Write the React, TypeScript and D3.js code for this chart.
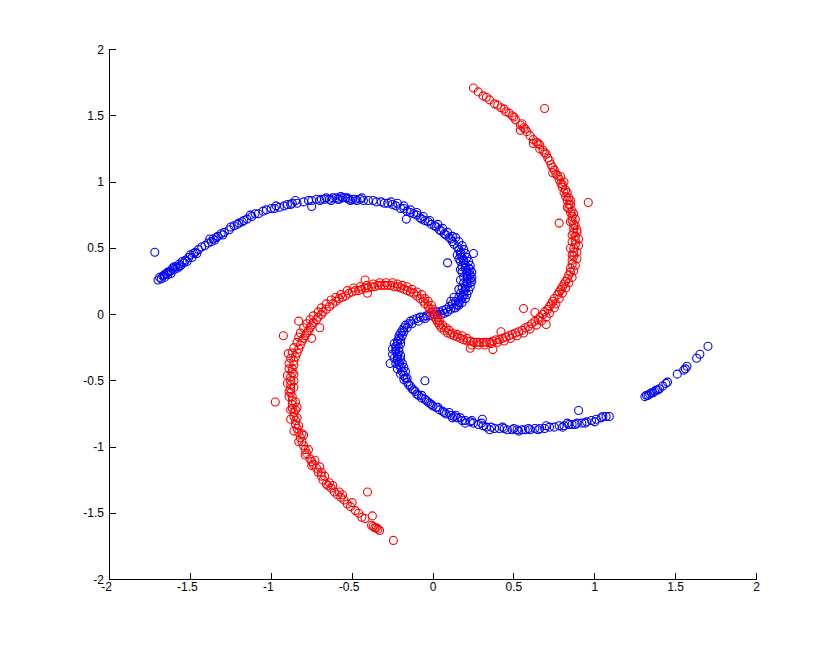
import React from "react";
import * as d3 from "d3";

type P = [number, number];

// ---- data ----
const blueArmUpper: P[] = [
  [-1.70,0.26],[-1.69,0.28],[-1.68,0.27],[-1.67,0.29],[-1.66,0.30],[-1.66,0.28],[-1.65,0.31],[-1.64,0.30],[-1.63,0.32],[-1.62,0.33],
  [-1.61,0.35],[-1.60,0.34],[-1.59,0.36],[-1.57,0.38],[-1.56,0.37],[-1.55,0.40],[-1.53,0.41],[-1.51,0.43],[-1.50,0.45],[-1.48,0.46],
  [-1.47,0.47],[-1.45,0.49],[-1.43,0.51],[-1.41,0.52],[-1.39,0.54],[-1.37,0.55],[-1.36,0.57],[-1.34,0.58],[-1.33,0.59],[-1.31,0.61],
  [-1.29,0.62],[-1.26,0.64],[-1.23,0.67],[-1.21,0.68],[-1.20,0.69],[-1.17,0.71],[-1.15,0.72],[-1.12,0.74],[-1.10,0.76],[-1.08,0.76],
  [-1.05,0.78],[-1.03,0.79],[-1.00,0.80],[-0.98,0.80],[-0.95,0.81],[-0.92,0.82],[-0.90,0.83],[-0.87,0.84],[-0.84,0.84],[-0.80,0.85],
  [-0.77,0.86],[-0.75,0.86],[-0.72,0.87],[-0.69,0.87],[-0.67,0.87],[-0.64,0.87],[-0.62,0.88],[-0.60,0.88],[-0.58,0.87],[-0.56,0.88],
  [-0.54,0.88],[-0.52,0.87],[-0.50,0.87],[-0.48,0.87],[-0.45,0.87],[-0.43,0.86],[-0.40,0.86],[-0.37,0.86],[-0.35,0.85],[-0.32,0.85],
  [-0.30,0.84],[-0.28,0.84],[-0.25,0.83],[-0.23,0.82],[-0.20,0.80],[-0.18,0.80],[-0.16,0.78],[-0.14,0.77],[-0.12,0.76],[-0.10,0.75],
  [-0.08,0.73],[-0.07,0.72],[-0.05,0.71],[-0.03,0.70],[-0.01,0.68],[0.01,0.67],[0.02,0.66],[0.04,0.64],[0.05,0.63],[0.07,0.61],
  [0.08,0.60],[0.10,0.58],[0.11,0.57],[0.12,0.55],[0.13,0.53],[0.15,0.51],[0.16,0.49],[0.17,0.47],[0.17,0.45],[0.18,0.43],
  [0.19,0.41],[0.19,0.39],[0.20,0.37],[0.20,0.35],[0.21,0.33],[0.21,0.31],[0.21,0.29],[0.21,0.27],[0.21,0.25],[0.21,0.23],
  [0.20,0.21],[0.20,0.19],[0.19,0.17],[0.19,0.15],[0.18,0.13],[0.17,0.11],[0.16,0.09],[0.15,0.07],[0.13,0.05],[0.11,0.04],
  [0.09,0.02],[0.07,0.01],[0.05,0.00],[0.03,0.00],[0.01,0.00],
  [0.14,0.58],[0.16,0.55],[0.18,0.52],[0.19,0.49],[0.20,0.46],[0.21,0.43],[0.22,0.40],[0.23,0.37],[0.23,0.34],[0.23,0.30],
  [0.23,0.27],[0.23,0.24],[0.23,0.21],[0.22,0.18],[0.21,0.15],[0.20,0.12],[0.18,0.09],[0.16,0.07],[0.14,0.05],[0.17,0.40],
  [0.18,0.36],[0.18,0.32],[0.19,0.28],[0.19,0.24],[0.18,0.20],[0.17,0.16],[0.16,0.13],[0.14,0.10],[0.12,0.08],[0.10,0.06],
  [0.08,0.04],[0.06,0.03],[0.04,0.02],[0.02,0.02],
  [-0.26,0.85],[-0.22,0.84],[-0.18,0.82],[-0.14,0.79],[-0.10,0.77],[-0.06,0.74],[-0.02,0.71],[0.03,0.68],[0.06,0.65],[0.09,0.62],[0.12,0.59],
  [-1.64,0.32],[-1.62,0.31],[-1.60,0.36],[-1.58,0.35],[-1.57,0.36],[-1.54,0.39],[-1.52,0.40],[-1.49,0.43],[-1.46,0.46],[-1.38,0.57],
  [-1.35,0.56],[-1.30,0.60],[-1.25,0.66],[-1.18,0.70],[-1.13,0.75],[-0.97,0.82],[-0.88,0.83],[-0.85,0.86],[-0.70,0.86],[-0.66,0.88],
  [-0.63,0.86],[-0.59,0.87],[-0.57,0.89],[-0.53,0.88],[-0.51,0.86],[-0.47,0.86],[-0.44,0.88],
  [0.24,0.32],[0.24,0.28],[0.24,0.25],[0.22,0.35],[0.15,0.45],[0.16,0.42],[0.17,0.34],[0.17,0.26],[0.16,0.19],[0.13,0.13],[0.11,0.10],
];

const blueArmLower: P[] = [
  [-0.02,-0.01],[-0.04,-0.01],[-0.06,-0.02],[-0.08,-0.02],[-0.10,-0.03],[-0.12,-0.04],[-0.14,-0.05],[-0.15,-0.07],[-0.17,-0.08],[-0.18,-0.10],
  [-0.19,-0.12],[-0.20,-0.14],[-0.21,-0.16],[-0.21,-0.18],[-0.22,-0.20],[-0.22,-0.22],[-0.23,-0.24],[-0.23,-0.26],[-0.23,-0.28],[-0.22,-0.30],
  [-0.22,-0.32],[-0.22,-0.34],[-0.21,-0.36],[-0.21,-0.38],[-0.20,-0.40],[-0.19,-0.43],[-0.18,-0.46],[-0.17,-0.48],[-0.16,-0.51],[-0.14,-0.54],
  [-0.13,-0.56],[-0.11,-0.58],[-0.09,-0.61],[-0.07,-0.63],[-0.05,-0.64],[-0.03,-0.66],[-0.01,-0.68],[0.02,-0.70],[0.04,-0.72],[0.06,-0.73],
  [0.08,-0.75],[0.11,-0.76],[0.13,-0.77],[0.15,-0.78],[0.18,-0.80],[0.20,-0.80],[0.23,-0.81],[0.25,-0.82],[0.28,-0.83],[0.31,-0.84],
  [0.33,-0.85],[0.36,-0.85],[0.38,-0.86],[0.41,-0.86],[0.44,-0.86],[0.46,-0.87],[0.49,-0.87],[0.52,-0.87],[0.55,-0.87],[0.57,-0.87],
  [0.60,-0.87],[0.63,-0.86],[0.66,-0.86],[0.69,-0.86],[0.72,-0.85],[0.75,-0.85],[0.78,-0.84],[0.81,-0.84],[0.84,-0.83],[0.86,-0.83],
  [0.89,-0.82],[0.92,-0.82],[0.95,-0.81],[0.98,-0.80],[1.01,-0.79],[1.04,-0.78],[1.07,-0.77],[1.09,-0.77],
  [1.31,-0.62],[1.32,-0.61],[1.33,-0.61],[1.34,-0.60],[1.35,-0.59],[1.36,-0.59],[1.37,-0.58],[1.38,-0.57],[1.39,-0.57],[1.40,-0.56],
  [1.42,-0.54],[1.44,-0.52],[1.45,-0.51],[1.51,-0.45],[1.55,-0.42],[1.56,-0.41],[1.57,-0.39],[1.63,-0.33],[1.65,-0.30],[1.70,-0.24],
  [-0.05,-0.03],[-0.09,-0.05],[-0.13,-0.07],[-0.16,-0.10],[-0.18,-0.13],[-0.19,-0.16],[-0.20,-0.19],[-0.20,-0.22],[-0.21,-0.25],[-0.21,-0.28],
  [-0.20,-0.31],[-0.20,-0.34],[-0.19,-0.37],[-0.18,-0.40],[-0.17,-0.43],[-0.24,-0.22],[-0.25,-0.26],[-0.25,-0.30],[-0.24,-0.33],[-0.23,-0.37],
  [-0.22,-0.41],[-0.20,-0.45],[-0.18,-0.49],[-0.15,-0.53],[-0.12,-0.57],[-0.10,-0.60],[-0.07,-0.61],[-0.04,-0.65],[0.00,-0.69],[0.03,-0.70],
  [0.07,-0.74],[0.10,-0.74],[0.14,-0.76],[0.17,-0.78],
  [0.30,-0.82],[0.35,-0.87],[0.43,-0.85],[0.50,-0.86],[0.53,-0.88],[0.59,-0.86],[0.65,-0.87],[0.70,-0.84],[0.80,-0.85],[0.83,-0.82],
  [0.88,-0.83],[0.94,-0.82],[1.00,-0.81],[1.05,-0.77],[0.24,-0.80],[0.20,-0.82],[0.12,-0.78],[-0.02,-0.67],[-0.16,-0.48],
];

const blueOutliers: P[] = [
  [0.09,0.39],[0.25,0.46],[-0.165,0.72],[-0.75,0.815],[-1.72,0.47],[-0.265,-0.37],[-0.05,-0.50],[0.90,-0.725],[0.305,-0.79],
];

const redArmUpper: P[] = [
  [0.00,0.00],[0.01,-0.02],[0.02,-0.04],[0.03,-0.06],[0.04,-0.08],[0.05,-0.10],[0.07,-0.12],[0.09,-0.14],[0.11,-0.15],[0.13,-0.16],
  [0.15,-0.17],[0.17,-0.18],[0.19,-0.19],[0.21,-0.20],[0.23,-0.20],[0.25,-0.21],[0.27,-0.21],[0.29,-0.21],[0.31,-0.21],[0.33,-0.21],
  [0.35,-0.21],[0.37,-0.20],[0.39,-0.19],[0.41,-0.19],[0.43,-0.18],[0.45,-0.17],[0.47,-0.16],[0.49,-0.15],[0.51,-0.14],[0.53,-0.13],
  [0.55,-0.12],[0.57,-0.10],[0.59,-0.09],[0.61,-0.07],[0.63,-0.05],[0.65,-0.04],[0.66,-0.02],[0.68,0.00],[0.69,0.02],[0.71,0.04],
  [0.72,0.06],[0.73,0.08],[0.74,0.10],[0.75,0.12],[0.77,0.15],[0.78,0.17],[0.79,0.19],[0.80,0.21],[0.81,0.23],[0.82,0.25],
  [0.83,0.27],[0.84,0.30],[0.85,0.32],[0.85,0.35],[0.86,0.38],[0.86,0.41],[0.87,0.44],[0.87,0.47],[0.87,0.50],[0.88,0.53],
  [0.88,0.56],[0.88,0.59],[0.87,0.62],[0.87,0.65],[0.87,0.68],[0.86,0.71],[0.86,0.74],[0.85,0.77],[0.84,0.80],[0.84,0.83],
  [0.83,0.86],[0.82,0.89],[0.81,0.92],[0.80,0.96],[0.79,0.99],[0.78,1.02],[0.77,1.05],[0.75,1.09],[0.73,1.13],[0.72,1.16],
  [0.71,1.18],[0.69,1.22],[0.68,1.24],[0.66,1.28],[0.64,1.30],[0.62,1.32],[0.60,1.35],[0.58,1.38],[0.56,1.41],[0.54,1.43],
  [0.51,1.47],[0.49,1.50],[0.47,1.52],[0.44,1.55],[0.42,1.56],[0.40,1.58],[0.38,1.59],[0.35,1.62],[0.33,1.64],[0.31,1.65],
  [0.28,1.68],[0.25,1.71],
  [0.03,-0.02],[0.04,-0.05],[0.06,-0.08],[0.08,-0.10],[0.10,-0.12],[0.12,-0.14],[0.15,-0.15],[0.18,-0.16],[0.21,-0.18],[0.24,-0.23],
  [0.28,-0.23],[0.32,-0.23],[0.36,-0.22],[0.40,-0.21],[0.44,-0.20],[0.48,-0.18],[0.52,-0.16],[0.56,-0.14],[0.60,-0.11],[0.64,-0.08],
  [0.67,-0.05],[0.70,-0.02],[0.72,0.01],[0.75,0.05],[0.76,0.08],[0.78,0.12],[0.80,0.16],[0.82,0.20],[0.84,0.24],[0.86,0.28],
  [0.87,0.33],[0.88,0.37],[0.89,0.42],[0.89,0.47],[0.90,0.52],[0.90,0.57],[0.89,0.62],[0.88,0.67],[0.88,0.72],[0.86,0.78],
  [0.85,0.83],[0.84,0.88],[0.82,0.94],[0.81,1.00],[0.79,1.04],[0.74,1.11],[0.70,1.21],[0.65,1.29],[0.57,1.40],[0.50,1.49],[0.45,1.53],
  [0.86,0.45],[0.85,0.50],[0.86,0.55],[0.86,0.60],[0.89,0.64],[0.85,0.70],[0.87,0.76],[0.83,0.81],[0.85,0.86],[0.83,0.92],
  [0.80,0.98],[0.76,1.06],[0.74,1.07],[0.66,1.25],[0.62,1.29],[0.55,1.44],[0.54,1.39],
];

const redArmLower: P[] = [
  [-0.01,0.02],[-0.02,0.04],[-0.03,0.06],[-0.05,0.08],[-0.06,0.10],[-0.08,0.12],[-0.10,0.14],[-0.12,0.16],[-0.14,0.17],[-0.16,0.18],
  [-0.18,0.19],[-0.20,0.20],[-0.22,0.21],[-0.24,0.21],[-0.26,0.22],[-0.28,0.22],[-0.30,0.22],[-0.32,0.22],[-0.34,0.22],[-0.36,0.21],
  [-0.38,0.21],[-0.40,0.20],[-0.42,0.20],[-0.44,0.19],[-0.46,0.18],[-0.48,0.18],[-0.50,0.17],[-0.52,0.16],[-0.54,0.14],[-0.56,0.13],
  [-0.58,0.12],[-0.60,0.10],[-0.62,0.08],[-0.64,0.06],[-0.66,0.04],[-0.68,0.02],[-0.69,0.00],[-0.71,-0.02],[-0.72,-0.04],[-0.74,-0.06],
  [-0.75,-0.08],[-0.76,-0.10],[-0.77,-0.12],[-0.78,-0.14],[-0.79,-0.16],[-0.80,-0.18],[-0.81,-0.20],[-0.82,-0.23],[-0.83,-0.26],[-0.84,-0.29],
  [-0.85,-0.32],[-0.86,-0.35],[-0.86,-0.38],[-0.87,-0.41],[-0.87,-0.44],[-0.88,-0.47],[-0.88,-0.50],[-0.88,-0.53],[-0.88,-0.56],[-0.88,-0.59],
  [-0.87,-0.62],[-0.87,-0.65],[-0.87,-0.68],[-0.87,-0.71],[-0.86,-0.74],[-0.86,-0.77],[-0.85,-0.80],[-0.85,-0.83],[-0.84,-0.86],[-0.83,-0.89],
  [-0.82,-0.93],[-0.81,-0.96],[-0.80,-0.99],[-0.79,-1.02],[-0.78,-1.05],[-0.76,-1.09],[-0.75,-1.11],[-0.74,-1.13],[-0.72,-1.16],[-0.71,-1.19],
  [-0.69,-1.22],[-0.68,-1.25],[-0.66,-1.28],[-0.65,-1.29],[-0.63,-1.31],[-0.61,-1.34],[-0.59,-1.36],[-0.57,-1.38],[-0.55,-1.40],[-0.53,-1.43],
  [-0.51,-1.45],[-0.48,-1.48],[-0.46,-1.50],[-0.44,-1.53],[-0.38,-1.59],[-0.37,-1.60],[-0.36,-1.61],[-0.35,-1.61],[-0.34,-1.62],[-0.33,-1.63],
  [0.00,0.04],[-0.01,0.07],[-0.03,0.10],[-0.05,0.12],[-0.07,0.15],[-0.10,0.17],[-0.13,0.19],[-0.16,0.21],[-0.19,0.22],[-0.22,0.23],
  [-0.25,0.24],[-0.29,0.24],[-0.33,0.24],[-0.37,0.23],[-0.41,0.22],[-0.45,0.21],[-0.49,0.20],[-0.53,0.18],[-0.57,0.15],[-0.60,0.13],
  [-0.63,0.11],[-0.66,0.08],[-0.69,0.05],[-0.71,0.02],[-0.74,-0.01],[-0.76,-0.04],[-0.78,-0.07],[-0.80,-0.10],[-0.82,-0.14],[-0.83,-0.17],
  [-0.84,-0.21],[-0.86,-0.25],[-0.87,-0.29],[-0.88,-0.33],[-0.89,-0.37],[-0.89,-0.41],[-0.90,-0.46],[-0.90,-0.52],[-0.89,-0.58],[-0.85,-0.66],
  [-0.84,-0.70],[-0.88,-0.72],[-0.84,-0.78],[-0.83,-0.84],[-0.80,-0.91],[-0.83,-0.96],[-0.77,-1.02],[-0.73,-1.10],[-0.70,-1.15],[-0.67,-1.22],
  [-0.62,-1.29],[-0.56,-1.36],[-0.50,-1.42],[-0.42,-1.54],
  [-0.86,-0.45],[-0.86,-0.50],[-0.86,-0.55],[-0.89,-0.62],[-0.85,-0.72],[-0.88,-0.79],[-0.86,-0.88],[-0.81,-0.90],[-0.79,-1.06],[-0.75,-1.14],
  [-0.69,-1.19],[-0.64,-1.27],[-0.58,-1.34],
];

const redOutliers: P[] = [
  [0.69,1.555],[0.96,0.845],[0.78,0.69],[0.56,0.045],[0.63,0.015],[0.70,-0.075],[0.42,-0.13],[0.37,-0.265],[0.23,-0.255],
  [-0.42,0.26],[-0.405,0.16],[-0.83,-0.05],[-0.925,-0.16],[-0.70,-0.10],[-0.75,-0.18],[-0.895,-0.295],[-0.975,-0.66],
  [-0.405,-1.34],[-0.375,-1.52],[-0.245,-1.705],
];

const xTicks = [-2, -1.5, -1, -0.5, 0, 0.5, 1, 1.5, 2];
const yTicks = [-2, -1.5, -1, -0.5, 0, 0.5, 1, 1.5, 2];

const W = 835;
const H = 651;
const left = 109.5, right = 756.5, top = 49.5, bottom = 579.5;

export default function App() {
  const x = d3.scaleLinear().domain([-2, 2]).range([left, right]);
  const y = d3.scaleLinear().domain([-2, 2]).range([bottom, top]);
  const fmt = (v: number) => (v < 0 ? "-" + String(Math.abs(v)) : String(v));

  const blue = [...blueArmUpper, ...blueArmLower, ...blueOutliers];
  const red = [...redArmUpper, ...redArmLower, ...redOutliers];

  const font = "'Liberation Sans', Arial, Helvetica, sans-serif";

  return (
    <svg
      width={W}
      height={H}
      style={{ position: "absolute", left: 0, top: 0, background: "#fff" }}
    >
      <rect x={0} y={0} width={W} height={H} fill="#fff" />
      <g>
        {blue.map((p, i) => (
          <circle key={"b" + i} cx={x(p[0])} cy={y(p[1])} r={4} fill="none" stroke="#0000ff" strokeWidth={1.1} />
        ))}
        {red.map((p, i) => (
          <circle key={"r" + i} cx={x(p[0])} cy={y(p[1])} r={4} fill="none" stroke="#ff0000" strokeWidth={1.1} />
        ))}
      </g>
      {/* axes */}
      <g stroke="#000" strokeWidth={1} shapeRendering="crispEdges">
        <line x1={left} x2={right + 0.5} y1={bottom} y2={bottom} />
        <line x1={left} x2={left} y1={top - 0.5} y2={bottom} />
        {xTicks.map((t) => (
          <line key={"xt" + t} x1={x(t)} x2={x(t)} y1={bottom} y2={bottom - 6.5} />
        ))}
        {yTicks.map((t) => (
          <line key={"yt" + t} x1={left} x2={left + 6.5} y1={y(t)} y2={y(t)} />
        ))}
      </g>
      <g fontFamily={font} fontSize={12} fill="#000">
        {xTicks.map((t) => (
          <text key={"xl" + t} x={x(t) - (t < 0 ? 3 : 0)} y={591} textAnchor="middle">
            {fmt(t)}
          </text>
        ))}
        {yTicks.map((t) => (
          <text key={"yl" + t} x={104} y={y(t) + 4} textAnchor="end">
            {fmt(t)}
          </text>
        ))}
      </g>
    </svg>
  );
}
